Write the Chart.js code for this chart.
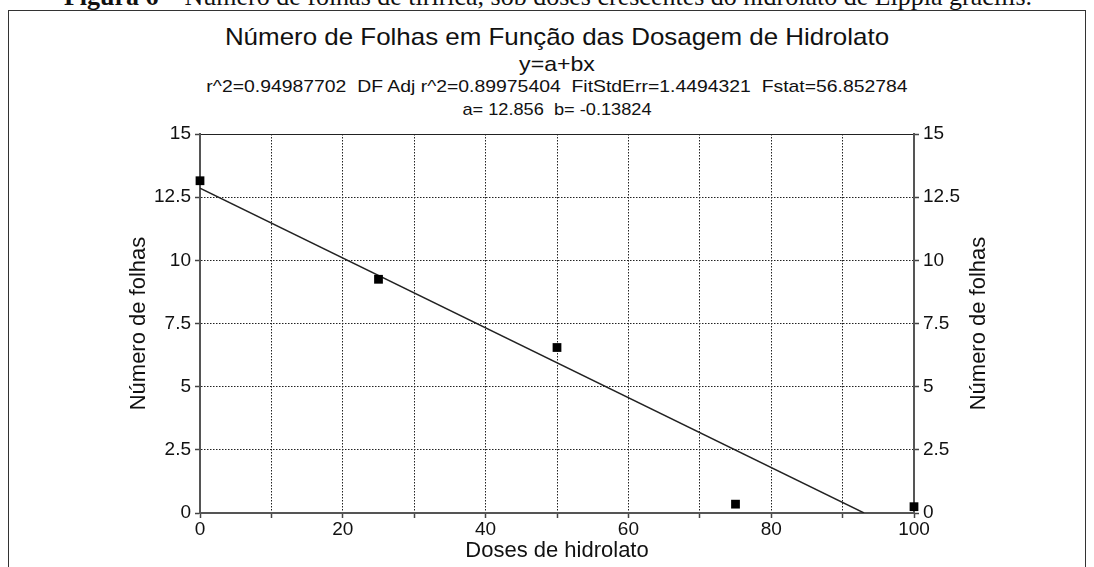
<!DOCTYPE html>
<html>
<head>
<meta charset="utf-8">
<title>Número de Folhas</title>
<script src="https://cdn.jsdelivr.net/npm/chart.js@4.4.1/dist/chart.umd.min.js"></script>
<style>
  body { margin: 0; width: 1094px; height: 567px; overflow: hidden; background: #fff; position: relative;
         font-family: "Liberation Sans", Arial, sans-serif; color: #111; }
  .legenda { position: absolute; top: -16px; left: 0; width: 1096px; text-align: center;
             font-family: "Liberation Serif", "Times New Roman", serif; font-size: 26px; line-height: 26px; white-space: nowrap; }
  .caixa { position: absolute; left: 8px; top: 10px; width: 1076px; height: 620px; border: 1px solid #333; }
  .linha { position: absolute; left: 157px; width: 800px; text-align: center; white-space: nowrap; line-height: 1.2; }
  #titulo { top: 23px; font-size: 24px; transform: scaleX(1.08); }
  #modelo { top: 51px; font-size: 21px; transform: scaleX(1.1); }
  #stats { top: 77px; font-size: 17px; transform: scaleX(1.14); }
  #coef { top: 100px; font-size: 17px; transform: scaleX(1.07); }
  #grafico { position: absolute; left: 0; top: 0; }
</style>
</head>
<body>
<div class="legenda"><b>Figura 6</b> – Número de folhas de tiririca, sob doses crescentes do hidrolato de Lippia gracilis.</div>
<div class="caixa"></div>
<div class="linha" id="titulo">Número de Folhas em Função das Dosagem de Hidrolato</div>
<div class="linha" id="modelo">y=a+bx</div>
<div class="linha" id="stats">r^2=0.94987702&nbsp; DF Adj r^2=0.89975404&nbsp; FitStdErr=1.4494321&nbsp; Fstat=56.852784</div>
<div class="linha" id="coef">a= 12.856&nbsp; b= -0.13824</div>
<canvas id="grafico" width="1094" height="567"></canvas>
<script>
// dados
const doses = [0, 25, 50, 75, 100];
const folhas = [13.15, 9.25, 6.55, 0.35, 0.25];
// reta ajustada y = 12.856 - 0.13824x (extremos)
const ajusteX = [0, 93];
const ajusteY = [12.856, 0];
const xRotulos = [0, 20, 40, 60, 80, 100];
const eixoX = 'Doses de hidrolato';
const eixoY = 'Número de folhas';

const fonte = '"Liberation Sans", Arial, sans-serif';
Chart.defaults.font.family = fonte;
Chart.defaults.color = '#111';

const grade = {
  color: '#222',
  lineWidth: 1,
  tickColor: '#444',
  tickLength: 5,
  tickWidth: 1.5
};

// tracejado pontilhado, mas a linha do topo (15) é sólida
const bordaY = {
  display: true,
  color: '#555',
  width: 2,
  dash: (ctx) => (ctx.tick && ctx.tick.value === 15 ? [] : [1.5, 1.5])
};

const tituloDireita = {
  id: 'tituloDireita',
  afterDraw(chart) {
    const {ctx, chartArea} = chart;
    const y2 = chart.scales.y2;
    ctx.save();
    ctx.translate(y2.left + 65, (chartArea.top + chartArea.bottom) / 2);
    ctx.rotate(-Math.PI / 2);
    ctx.font = '22px ' + fonte;
    ctx.fillStyle = '#111';
    ctx.textAlign = 'center';
    ctx.textBaseline = 'middle';
    ctx.fillText(eixoY, 0, 0);
    ctx.restore();
  }
};

const dados = {
  datasets: [
    {
      label: 'observado',
      data: doses.map((d, i) => ({x: d, y: folhas[i]})),
      pointStyle: 'rect',
      pointRadius: 6.2,
      backgroundColor: '#000',
      borderWidth: 0,
      clip: false
    },
    {
      label: 'ajuste',
      data: ajusteX.map((d, i) => ({x: d, y: ajusteY[i]})),
      showLine: true,
      pointRadius: 0,
      borderColor: '#222',
      borderWidth: 1.4
    }
  ]
};

new Chart(document.getElementById('grafico'), {
  type: 'scatter',
  data: dados,
  options: {
    responsive: false,
    animation: false,
    layout: { padding: { left: 110, right: 100, top: 134, bottom: 0 } },
    plugins: { legend: { display: false }, tooltip: { enabled: false } },
    scales: {
      x: {
        type: 'linear', position: 'bottom', min: 0, max: 100,
        afterFit: (s) => { s.height = 54; },
        ticks: {
          stepSize: 10, autoSkip: false, maxRotation: 0, padding: 0,
          font: { size: 19 },
          callback: (v) => (xRotulos.includes(v) ? v : '')
        },
        grid: grade,
        border: { display: true, color: '#555', width: 2, dash: [1.5, 1.5] },
        title: { display: true, text: eixoX, font: { size: 22 }, padding: { top: 0, bottom: 3 } }
      },
      y: {
        type: 'linear', position: 'left', min: 0, max: 15,
        afterFit: (s) => { s.width = 90; },
        ticks: { stepSize: 2.5, padding: 4, font: { size: 19 } },
        grid: grade,
        border: bordaY,
        title: { display: true, text: eixoY, font: { size: 22 }, padding: { top: 16 } }
      },
      y2: {
        type: 'linear', position: 'right', min: 0, max: 15,
        afterFit: (s) => { s.width = 80; },
        ticks: { stepSize: 2.5, padding: 4, font: { size: 19 } },
        grid: Object.assign({}, grade, { drawOnChartArea: false }),
        border: { display: true, color: '#555', width: 2 }
      }
    }
  },
  plugins: [tituloDireita]
});
</script>
</body>
</html>
